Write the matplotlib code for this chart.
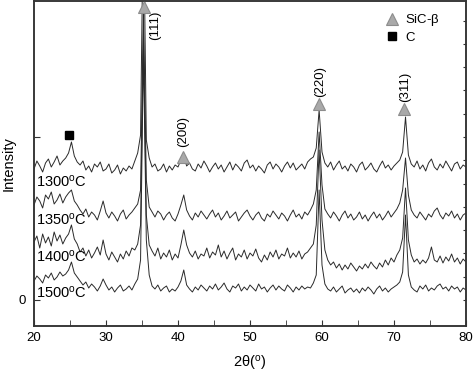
import numpy as np
import matplotlib
matplotlib.use("Agg")
import matplotlib.pyplot as plt
from matplotlib.lines import Line2D

plt.rcParams['font.family'] = ['Liberation Sans', 'DejaVu Sans']
plt.rcParams['mathtext.fontset'] = 'custom'
plt.rcParams['mathtext.rm'] = 'Liberation Sans'
plt.rcParams['mathtext.it'] = 'Liberation Sans:italic'

# 2-theta grid (degrees)
two_theta = np.arange(151) * 0.4 + 20.0

# intensities (a.u.), curves already stacked
i1300 = [131, 139, 134, 128, 137, 141, 133, 138, 144, 135, 139, 142, 147, 158, 144, 138,
         135, 139, 130, 134, 128, 136, 133, 138, 129, 131, 136, 127, 130, 135, 126, 132,
         129, 134, 131, 139, 147, 165, 400, 160, 142, 133, 136, 129, 131, 136, 128, 134,
         130, 135, 133, 140, 144, 134, 137, 131, 129, 136, 132, 139, 134, 128, 133, 137,
         131, 135, 128, 133, 138, 130, 136, 133, 129, 137, 140, 132, 135, 129, 134, 131,
         127, 135, 138, 131, 136, 133, 128, 134, 138, 132, 137, 130, 133, 136, 131, 138,
         141, 143, 152, 190, 148, 137, 133, 138, 130, 135, 139, 131, 134, 129, 136, 133,
         128, 135, 138, 130, 133, 137, 131, 128, 134, 139, 132, 135, 130, 134, 137, 140,
         148, 183, 145, 136, 133, 139, 131, 135, 129, 137, 141, 133, 130, 136, 132, 139,
         134, 129, 136, 138, 131, 135, 133]
i1350 = [95, 103, 99, 92, 105, 101, 108, 96, 100, 106, 97, 103, 107, 110, 99, 95,
         90, 86, 91, 83, 88, 85, 80, 89, 99, 87, 82, 88, 84, 79, 86, 90,
         81, 85, 88, 92, 96, 110, 290, 120, 93, 88, 83, 89, 86, 80, 85, 88,
         82, 79, 86, 95, 105, 90, 84, 80, 87, 83, 89, 85, 81, 86, 90, 83,
         87, 80, 84, 89, 82, 85, 88, 79, 83, 87, 90, 84, 80, 85, 88, 82,
         79, 86, 83, 89, 85, 81, 87, 84, 79, 85, 90, 83, 86, 81, 88, 85,
         90, 96, 110, 168, 115, 91, 86, 82, 88, 84, 79, 85, 89, 82, 86, 80,
         83, 88, 81, 85, 79, 84, 88, 82, 86, 80, 84, 89, 83, 87, 91, 97,
         110, 142, 105, 90, 85, 82, 88, 84, 80, 86, 83, 89, 92, 85, 81, 87,
         84, 89, 82, 86, 80, 85, 87]
i1400 = [58, 64, 52, 66, 57, 63, 54, 68, 59, 65, 56, 62, 66, 75, 61, 56,
         48, 52, 44, 50, 42, 47, 53, 45, 60, 46, 40, 48, 43, 38, 46, 41,
         49, 44, 52, 50, 56, 75, 270, 85, 55, 49, 44, 52, 41, 47, 43, 50,
         40, 46, 42, 55, 70, 55, 47, 43, 49, 41, 46, 44, 52, 42, 48, 45,
         55, 43, 49, 41, 47, 52, 40, 46, 43, 50, 41, 47, 44, 51, 42, 38,
         45, 40, 48, 43, 50, 41, 46, 44, 52, 42, 47, 43, 49, 41, 46, 48,
         52, 56, 75, 150, 80, 50, 40, 35, 38, 32, 36, 30, 35, 31, 37, 33,
         29, 34, 31, 36, 32, 38, 34, 31, 37, 33, 40, 35, 42, 38, 45, 50,
         62, 112, 60, 45, 38, 41, 36, 40, 37, 42, 53, 40, 38, 44, 37, 43,
         39, 46, 38, 42, 36, 41, 38]
i1500 = [19, 24, 21, 17, 25, 22, 27, 20, 23, 28, 24, 26, 30, 38, 27, 23,
         19, 15, 18, 12, 16, 13, 9, 14, 21, 15, 10, 13, 8, 12, 15, 9,
         11, 14, 10, 16, 21, 40, 250, 60, 25, 14, 11, 15, 9, 12, 14, 8,
         11, 9, 13, 19, 30, 15, 11, 8, 13, 10, 15, 12, 9, 14, 11, 16,
         10, 13, 17, 11, 8, 14, 12, 16, 9, 13, 10, 15, 12, 9, 16, 11,
         13, 8, 12, 15, 10, 14, 11, 9, 15, 12, 8, 13, 10, 14, 11, 13,
         12, 17, 25, 110, 35, 16, 11, 9, 13, 8, 11, 14, 7, 10, 12, 8,
         11, 7, 12, 9, 13, 10, 6, 11, 14, 9, 12, 8, 11, 13, 15, 18,
         28, 85, 25, 13, 10, 8, 14, 11, 15, 9, 12, 10, 14, 16, 11, 13,
         9, 14, 11, 13, 8, 12, 10]

series = [i1300, i1350, i1400, i1500]
temp_labels = ["1300$^{\\mathrm{o}}$C", "1350$^{\\mathrm{o}}$C",
               "1400$^{\\mathrm{o}}$C", "1500$^{\\mathrm{o}}$C"]
temp_label_y = [118, 80, 43, 7]

# phase markers
sic_x = [35.3, 40.65, 59.6, 71.4]
sic_y = [293, 143, 196, 191]
hkl_labels = ["(111)", "(200)", "(220)", "(311)"]
hkl_x = [36.8, 40.7, 59.7, 71.5]
hkl_y = [260, 153, 203, 198]
c_x = [24.9]
c_y = [165]

fig = plt.figure(figsize=(4.73, 3.73), dpi=100)
ax = fig.add_axes([34/473, 1 - 325.5/373, 432/473, 324.5/373])

for s in series:
    ax.plot(two_theta, s, color='#2a2a2a', lw=0.7, zorder=2)

ax.plot(sic_x, sic_y, ls='none', marker='^', ms=8, mfc='#a9a9a9', mec='#8c8c8c',
        mew=0.8, clip_on=False, zorder=4)
ax.plot(c_x, c_y, ls='none', marker='s', ms=6, mfc='black', mec='black', zorder=4)

for t, yv in zip(temp_labels, temp_label_y):
    ax.text(20.28, yv, t, fontsize=10.5, ha='left', va='center', zorder=5)

for lab, xv, yv in zip(hkl_labels, hkl_x, hkl_y):
    ax.text(xv, yv, lab, rotation=90, fontsize=9.5, ha='center', va='bottom', zorder=5)

ax.set_xlim(20, 80)
ax.set_ylim(-25.5, 299)
ax.set_xticks([20, 30, 40, 50, 60, 70, 80])
ax.set_xticks([25, 35, 45, 55, 65, 75], minor=True)
ax.set_yticks([0, 163])
ax.set_yticklabels(['0', ''])
ax.tick_params(axis='both', which='both', direction='in', labelsize=9.5, color='#333333')
ax.tick_params(axis='x', which='major', length=4, pad=5)
ax.tick_params(axis='x', which='minor', length=4)
ax.tick_params(axis='y', which='major', length=4, pad=6)

ax2 = ax.twinx()
ax2.set_ylim(-25.5, 299)
ax2.set_yticks([k * 163 / 7 for k in range(0, 13)])
ax2.tick_params(axis='y', direction='in', length=2, labelright=False, color='#333333')

for a in (ax, ax2):
    for sp in a.spines.values():
        sp.set_linewidth(1.1)
        sp.set_color('#333333')

ax.set_ylabel('Intensity', fontsize=10.5)
ax.yaxis.set_label_coords(-0.043, 0.5)
ax.set_xlabel('2$\\mathrm{\\theta}$($^{\\mathrm{o}}$)', fontsize=10.5)
ax.xaxis.set_label_coords(0.5, -0.088)

handles = [Line2D([], [], ls='none', marker='^', ms=8, mfc='#a9a9a9', mec='#8c8c8c', mew=0.8),
           Line2D([], [], ls='none', marker='s', ms=6, mfc='black', mec='black')]
ax.legend(handles, ['SiC-$\\mathrm{\\beta}$', 'C'], loc='upper left',
          bbox_to_anchor=(0.813, 0.965), frameon=False, fontsize=9.5,
          borderaxespad=0, borderpad=0, handlelength=1.0, handletextpad=0.5,
          labelspacing=0.25)

fig.savefig('out.png', dpi=100)
